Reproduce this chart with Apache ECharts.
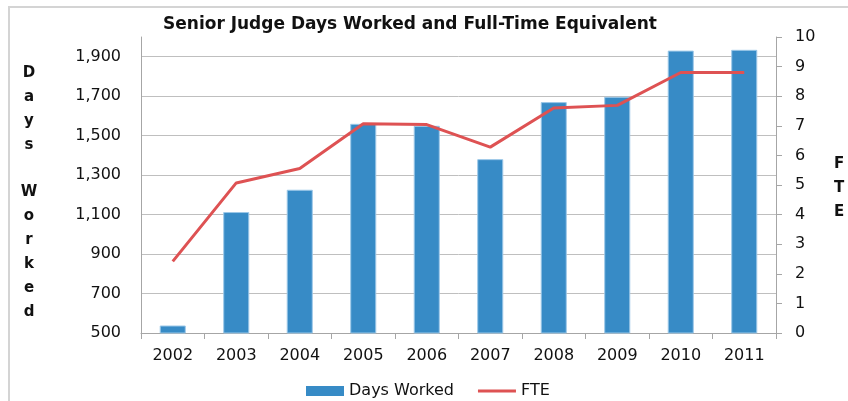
<!DOCTYPE html>
<html><head><meta charset="utf-8">
<script src="https://cdn.jsdelivr.net/npm/echarts@6/dist/echarts.min.js"></script>
<style>html,body{margin:0;padding:0;background:#fff}#c{width:848px;height:401px}</style>
</head><body><div id="c"></div>
<script>
const years = ['2002','2003','2004','2005','2006','2007','2008','2009','2010','2011'];
const daysWorked = [538, 1113, 1226, 1560, 1550, 1381, 1670, 1697, 1931, 1935];
const fte = [2.42, 5.07, 5.56, 7.07, 7.04, 6.28, 7.60, 7.69, 8.80, 8.80];
const title = 'Senior Judge Days Worked and Full-Time Equivalent';
const leftName = ['D','a','y','s','','W','o','r','k','e','d'];
const rightName = ['F','T','E'];

const font = 'DejaVu Sans';
const chart = echarts.init(document.getElementById('c'), null, {renderer:'canvas'});
const graphics = [
  {type:'rect', shape:{x:9, y:7, width:860, height:420}, style:{fill:'none', stroke:'#d4d4d4', lineWidth:2}, silent:true}
];
leftName.forEach((ch,i)=>{ if(ch) graphics.push({type:'text', x:29, y:73 + i*23.9, style:{text:ch, font:'bold 15px '+font, fill:'#111', align:'center', verticalAlign:'middle'}}); });
rightName.forEach((ch,i)=>{ graphics.push({type:'text', x:839, y:164 + i*24, style:{text:ch, font:'bold 15px '+font, fill:'#111', align:'center', verticalAlign:'middle'}}); });

chart.setOption({
  animation:false,
  title:{text:title, left:158, top:11, textStyle:{fontFamily:font, fontSize:17, fontWeight:'bold', color:'#111'}},
  graphic: graphics,
  legend:{left:301, top:378, itemWidth:38, itemHeight:10, itemGap:24,
    textStyle:{fontFamily:font, fontSize:16, color:'#111'},
    itemStyle:{borderWidth:0},
    data:[{name:'Days Worked', icon:'rect'}, {name:'FTE', icon:'path://M0,4 L40,4 L40,7 L0,7 Z'}]},
  grid:{left:141, right:72, top:37, bottom:68},
  xAxis:{type:'category', data:years,
    axisLine:{lineStyle:{color:'#a6a6a6', width:1}},
    axisTick:{show:true, length:6, lineStyle:{color:'#a6a6a6'}},
    axisLabel:{fontFamily:font, fontSize:16, color:'#111', margin:15}},
  yAxis:[
    {type:'value', min:500, max:2000, interval:200, position:'left',
     axisLine:{show:true, lineStyle:{color:'#a6a6a6'}}, axisTick:{show:false},
     axisLabel:{fontFamily:font, fontSize:16, color:'#111', margin:20, showMaxLabel:false,
       formatter:v=>v.toLocaleString('en-US')},
     splitLine:{show:true, showMaxLine:false, lineStyle:{color:'#bfbfbf'}}},
    {type:'value', min:0, max:10, interval:1, position:'right',
     axisLine:{show:true, lineStyle:{color:'#a6a6a6'}}, axisTick:{show:true, inside:false, length:6, lineStyle:{color:'#a6a6a6'}},
     axisLabel:{fontFamily:font, fontSize:16, color:'#111', margin:19},
     splitLine:{show:false}}
  ],
  series:[
    {name:'Days Worked', type:'bar', data:daysWorked, barWidth:'41%', yAxisIndex:0,
     itemStyle:{color:'#378bc6', borderColor:'#9cc8e8', borderWidth:1}},
    {name:'FTE', type:'line', data:fte, yAxisIndex:1, symbol:'none',
     lineStyle:{color:'#de5253', width:3}, itemStyle:{color:'#de5253'}}
  ]
});
</script></body></html>
